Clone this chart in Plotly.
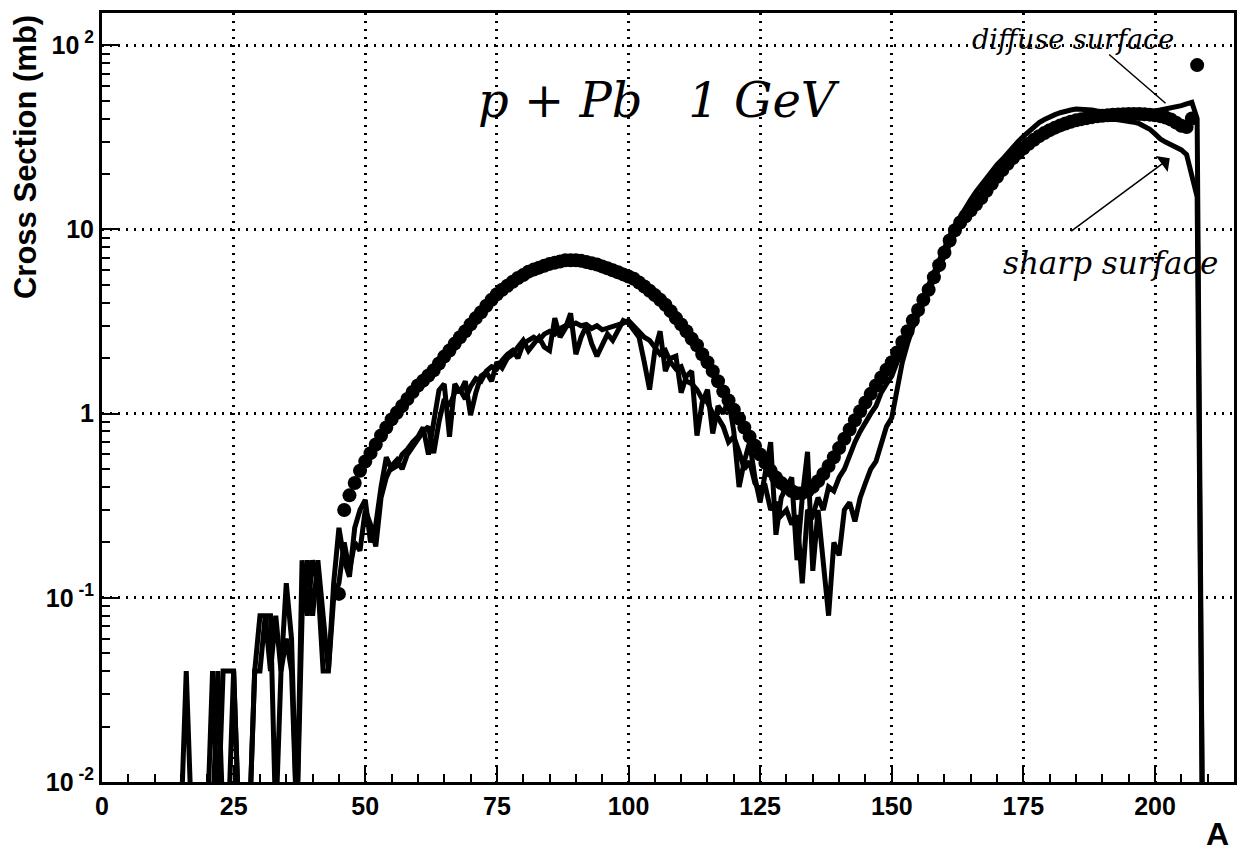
import plotly.graph_objects as go

# ---------------- data ----------------
A_line = list(range(14, 210))

diffuse = [
    0, 0, 0.04, 0, 0, 0, 0, 0.04, 0, 0.04,
    0.04, 0.04, 0, 0, 0, 0.04, 0.08, 0.08, 0.08, 0,
    0.04, 0.12, 0.06, 0, 0.16, 0.08, 0.16, 0.12, 0.04, 0.04,
    0.12, 0.24, 0.16, 0.13, 0.24, 0.30, 0.34, 0.20, 0.25, 0.40,
    0.58, 0.50, 0.52, 0.60, 0.64, 0.70, 0.75, 0.84, 0.60, 0.90,
    1.34, 1.45, 0.75, 1.45, 1.30, 1.50, 0.98, 1.30, 1.60, 1.68,
    1.50, 1.90, 1.77, 2.00, 2.10, 2.30, 2.50, 2.20, 2.40, 2.60,
    2.30, 2.20, 3.30, 2.60, 2.90, 3.50, 2.10, 2.60, 3.00, 2.40,
    2.05, 2.40, 2.70, 2.50, 2.80, 3.20, 3.10, 2.80, 2.60, 1.90,
    1.35, 2.20, 2.80, 1.70, 2.00, 2.05, 1.30, 1.60, 1.70, 0.76,
    1.15, 1.35, 0.78, 1.10, 1.00, 1.20, 0.80, 0.40, 0.55, 0.70,
    0.45, 0.33, 0.50, 0.70, 0.22, 0.35, 0.40, 0.45, 0.16, 0.35,
    0.62, 0.14, 0.30, 0.15, 0.08, 0.20, 0.17, 0.30, 0.33, 0.26,
    0.35, 0.42, 0.50, 0.55, 0.70, 0.85, 0.95, 1.40, 1.90, 2.40,
    3.00, 3.60, 4.30, 5.00, 6.00, 7.00, 8.00, 9.20, 10.5, 11.8,
    13.0, 14.5, 16.0, 17.5, 19.0, 21.0, 22.5, 24.0, 26.0, 28.0,
    30.0, 32.0, 34.0, 36.0, 38.0, 39.5, 41.0, 42.0, 43.0, 44.0,
    44.5, 45.0, 45.0, 45.0, 44.5, 44.0, 43.5, 43.0, 43.0, 42.5,
    42.5, 42.5, 43.0, 43.0, 43.5, 43.5, 44.0, 44.5, 45.0, 45.5,
    46.0, 47.0, 48.0, 49.0, 40.0, 0,
]

sharp = [
    0, 0, 0, 0, 0, 0, 0, 0, 0.04, 0,
    0, 0.04, 0, 0, 0, 0.04, 0.04, 0.08, 0.04, 0.08,
    0.04, 0.06, 0.04, 0, 0.08, 0.16, 0.08, 0.16, 0.08, 0.04,
    0.10, 0.12, 0.20, 0.14, 0.20, 0.18, 0.30, 0.25, 0.19, 0.35,
    0.45, 0.52, 0.56, 0.50, 0.60, 0.66, 0.72, 0.80, 0.85, 0.61,
    0.90, 1.20, 1.10, 1.30, 1.35, 1.20, 1.40, 1.55, 1.50, 1.70,
    1.80, 1.75, 1.95, 2.10, 2.20, 2.00, 2.40, 2.50, 2.60, 2.50,
    2.70, 2.80, 2.70, 2.90, 3.00, 3.00, 3.10, 3.00, 3.05, 2.90,
    3.00, 2.85, 2.90, 2.95, 3.00, 3.10, 3.20, 3.00, 2.80, 2.60,
    2.50, 2.30, 2.10, 2.20, 1.90, 1.75, 1.80, 1.50, 1.45, 1.35,
    1.20, 1.15, 1.00, 0.95, 0.85, 0.70, 0.75, 0.62, 0.50, 0.55,
    0.42, 0.38, 0.40, 0.30, 0.33, 0.28, 0.30, 0.25, 0.28, 0.12,
    0.30, 0.28, 0.35, 0.30, 0.40, 0.38, 0.45, 0.50, 0.60, 0.70,
    0.80, 0.90, 1.00, 1.10, 1.30, 1.45, 1.60, 1.90, 2.20, 2.60,
    3.00, 3.50, 4.00, 4.70, 5.40, 6.30, 7.20, 8.30, 9.40, 10.5,
    11.6, 12.8, 14.0, 15.3, 16.7, 18.2, 19.8, 21.4, 23.0, 24.6,
    26.2, 27.8, 29.2, 30.6, 31.9, 33.1, 34.2, 35.2, 36.1, 36.9,
    37.6, 38.2, 38.7, 39.1, 39.4, 39.6, 39.7, 39.7, 39.6, 39.4,
    39.1, 38.7, 38.2, 37.5, 36.5, 35.0, 33.0, 31.0, 29.8, 28.8,
    28.0, 27.0, 25.5, 20.0, 15.0, 0,
]

exp_A = [45] + list(range(46, 208)) + [208]
exp_val = [
    0.105,
    0.30, 0.36, 0.42, 0.49, 0.55, 0.61, 0.68, 0.76, 0.84, 0.93,
    1.01, 1.10, 1.20, 1.31, 1.42, 1.51, 1.61, 1.72, 1.87, 2.04,
    2.20, 2.40, 2.60, 2.80, 3.05, 3.30, 3.55, 3.85, 4.15, 4.45,
    4.70, 4.95, 5.20, 5.45, 5.65, 5.90, 6.05, 6.20, 6.35, 6.50,
    6.60, 6.70, 6.80, 6.80, 6.80, 6.75, 6.65, 6.55, 6.45, 6.30,
    6.15, 6.00, 5.85, 5.70, 5.55, 5.40, 5.15, 4.90, 4.65, 4.40,
    4.15, 3.90, 3.60, 3.30, 3.05, 2.80, 2.55, 2.35, 2.10, 1.90,
    1.70, 1.50, 1.32, 1.18, 1.05, 0.94, 0.84, 0.75, 0.67, 0.60,
    0.54, 0.49, 0.45, 0.42, 0.40, 0.38, 0.37, 0.37, 0.38, 0.40,
    0.43, 0.47, 0.52, 0.58, 0.65, 0.73, 0.82, 0.92, 1.03, 1.15,
    1.28, 1.42, 1.57, 1.73, 1.90, 2.15, 2.45, 2.80, 3.20, 3.65,
    4.15, 4.70, 5.50, 6.40, 7.50, 8.70, 9.90, 10.9, 11.8, 12.7,
    13.7, 14.8, 16.2, 17.7, 19.3, 21.0, 22.7, 24.4, 26.0, 27.6,
    29.2, 30.7, 32.1, 33.4, 34.6, 35.7, 36.7, 37.6, 38.4, 39.1,
    39.7, 40.2, 40.7, 41.1, 41.4, 41.7, 41.9, 42.1, 42.2, 42.3,
    42.3, 42.3, 42.2, 42.0, 41.7, 41.2, 40.5, 39.5, 38.0, 36.5,
    36.0, 40.0,
    78.0,
]

x_ticks = [0, 25, 50, 75, 100, 125, 150, 175, 200]
y_ticks = [0.01, 0.1, 1, 10, 100]
y_ticktext = ["10<sup> -2</sup>", "10<sup> -1</sup>", "1", "10", "10<sup> 2</sup>"]

assert len(diffuse) == len(A_line) and len(sharp) == len(A_line)
assert len(exp_A) == len(exp_val)

EMPTY_BIN = 0.006  # empty histogram bins drop below the plotted range


def floor_empty(vals):
    return [v if v > 0 else EMPTY_BIN for v in vals]


fig = go.Figure()
fig.add_trace(go.Scatter(x=A_line, y=floor_empty(sharp), mode="lines",
                         line=dict(color="black", width=5), name="sharp surface"))
fig.add_trace(go.Scatter(x=A_line, y=floor_empty(diffuse), mode="lines",
                         line=dict(color="black", width=5), name="diffuse surface"))
fig.add_trace(go.Scatter(x=exp_A, y=exp_val, mode="markers",
                         marker=dict(color="black", size=14), name="data"))

minor_y = []
for dec in [0.01, 0.1, 1, 10, 100]:
    for k in range(2, 10):
        v = dec * k
        if v < 150:
            minor_y.append(v)

tickfont = dict(family="Liberation Sans, Arial, sans-serif", size=25,
                color="black", weight="bold")
grid_dash = "2px,6px"

fig.update_xaxes(
    range=[0, 215], tickmode="array", tickvals=x_ticks,
    showline=True, linecolor="black", linewidth=3, mirror=True,
    ticks="inside", ticklen=17, tickwidth=2, tickcolor="black",
    showgrid=True, gridcolor="black", gridwidth=2.5, griddash=grid_dash,
    zeroline=False, tickfont=tickfont,
    minor=dict(ticks="inside", ticklen=8, tickwidth=2, tickcolor="black",
               dtick=5, tick0=0, showgrid=False),
)
fig.update_yaxes(
    type="log", range=[-2, 2.175], tickmode="array", tickvals=y_ticks,
    ticktext=y_ticktext,
    showline=True, linecolor="black", linewidth=3, mirror=True,
    ticks="inside", ticklen=17, tickwidth=2, tickcolor="black",
    showgrid=True, gridcolor="black", gridwidth=2.5, griddash=grid_dash,
    zeroline=False, tickfont=tickfont,
    minor=dict(ticks="inside", ticklen=8, tickwidth=2, tickcolor="black",
               tickvals=minor_y, showgrid=False),
)

hand = dict(family="DejaVu Serif, serif", color="black", style="italic")

annotations = [
    dict(text="Cross Section (mb)", xref="paper", yref="paper", x=-0.068, y=1.0,
         xanchor="center", yanchor="top", textangle=-90, showarrow=False,
         font=dict(family="Liberation Sans, Arial", size=31,
                   color="black", weight="bold")),
    dict(text="A", xref="paper", yref="paper", x=0.997, y=-0.068,
         xanchor="right", yanchor="middle", showarrow=False,
         font=dict(family="Liberation Sans, Arial", size=32, color="black", weight="bold")),
    dict(text="p + Pb   1 GeV", x=105.8, y=1.70, xref="x", yref="y",
         showarrow=False, font=dict(size=48, **hand)),
    dict(text="diffuse surface", x=184.4, y=2.03, xref="x", yref="y",
         showarrow=False, font=dict(size=27, **hand)),
    dict(text="sharp surface", x=191.6, y=0.82, xref="x", yref="y",
         showarrow=False, font=dict(size=31, **hand)),
    dict(text="", x=202.0, y=1.685, ax=191.0, ay=1.957, xref="x", yref="y",
         axref="x", ayref="y", showarrow=True, arrowhead=0, arrowwidth=1.5,
         arrowcolor="black"),
    dict(text="", x=202.8, y=1.387, ax=183.8, ay=0.985, xref="x", yref="y",
         axref="x", ayref="y", showarrow=True, arrowhead=1, arrowsize=2.2,
         arrowwidth=1.5, arrowcolor="black"),
]

fig.update_layout(
    width=1246, height=854,
    margin=dict(l=102, r=9, t=13, b=72),
    paper_bgcolor="white", plot_bgcolor="white",
    showlegend=False,
    annotations=annotations,
)

fig.write_html("out.html")
